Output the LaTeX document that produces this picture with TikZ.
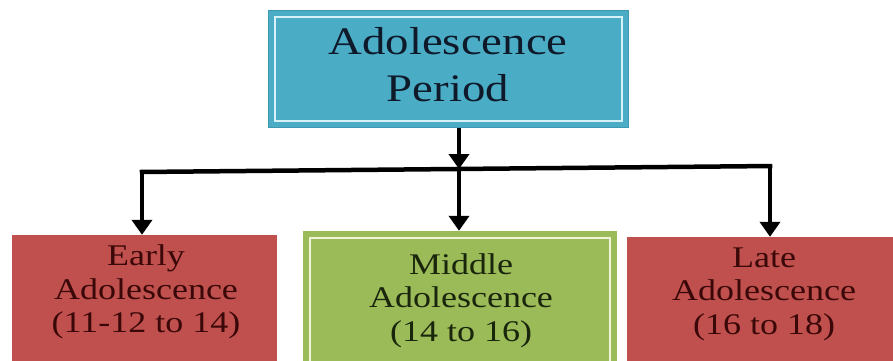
\documentclass[tikz,border=0pt]{standalone}
\usepackage{fontspec}
\setmainfont{Liberation Serif}[FakeStretch=1.2]
\usetikzlibrary{arrows.meta}
\definecolor{aquafill}{HTML}{4BACC6}
\definecolor{aquaedge}{HTML}{3F98B2}
\definecolor{aqualine}{HTML}{D6F1F8}
\definecolor{redfill}{HTML}{C0504D}
\definecolor{greenfill}{HTML}{9BBB59}
\definecolor{greenline}{HTML}{EEF5DC}
\definecolor{toptextc}{HTML}{0E1A2A}
\definecolor{redtextc}{HTML}{3A0808}
\definecolor{greentextc}{HTML}{1A260C}
\tikzset{
  boxbase/.style={rectangle, inner sep=0pt},
  topbox/.style={boxbase, fill=aquafill, draw=aquaedge, line width=1pt},
  redbox/.style={boxbase, fill=redfill},
  greenbox/.style={boxbase, fill=greenfill},
  insetline/.style={line width=2pt},
  toptext/.style={align=center, font=\fontsize{39}{47}\selectfont, text=toptextc, inner sep=0pt},
  lowtext/.style={align=center, font=\fontsize{30}{33.5}\selectfont, inner sep=0pt},
  conn/.style={line width=4.5pt, draw=black},
  connarrow/.style={conn, -{Triangle[width=20pt,length=15pt]}}
}
\begin{document}
\begin{tikzpicture}[x=1pt,y=-1pt]
\useasboundingbox (0,0) rectangle (893,360);
\clip (0,0) rectangle (893,360);
\fill[white] (0,0) rectangle (893,360);
% top box
\node[topbox, minimum width=360pt, minimum height=117pt] (top) at (448,68.5) {};
\draw[insetline, draw=aqualine] ([shift={(7pt,-7pt)}]top.north west) rectangle ([shift={(-7pt,7pt)}]top.south east);
\node[toptext] (toptxt) at (448,64.5) {Adolescence\\Period};
% bottom boxes
\node[redbox, minimum width=265pt, minimum height=145pt] (early) at (144.5,307.5) {};
\node[greenbox, minimum width=314pt, minimum height=149pt] (middle) at (460,305.5) {};
\draw[insetline, draw=greenline] ([shift={(7pt,-7pt)}]middle.north west) rectangle ([shift={(-7pt,7pt)}]middle.south east);
\node[redbox, minimum width=273pt, minimum height=143pt] (late) at (763.5,308.5) {};
\node[lowtext, text=redtextc] (earlytxt) at (146,292) {Early\\Adolescence\\(11-12 to 14)};
\node[lowtext, text=greentextc] (middletxt) at (461,300.5) {Middle\\Adolescence\\(14 to 16)};
\node[lowtext, text=redtextc] (latetxt) at (764,294) {Late\\Adolescence\\(16 to 18)};
% connectors
\coordinate (j) at (459,169);
\coordinate (lL) at (142,172);
\coordinate (rR) at (770,166);
\draw[conn] ([xshift=-2.25pt]lL) -- ([xshift=2.25pt]rR);
\draw[connarrow] (top.south -| j) -- (j);
\draw[connarrow] (j) -- (j |- middle.north);
\draw[connarrow] (lL) -- (lL |- early.north);
\draw[connarrow] (rR) -- (rR |- late.north);
\end{tikzpicture}
\end{document}
